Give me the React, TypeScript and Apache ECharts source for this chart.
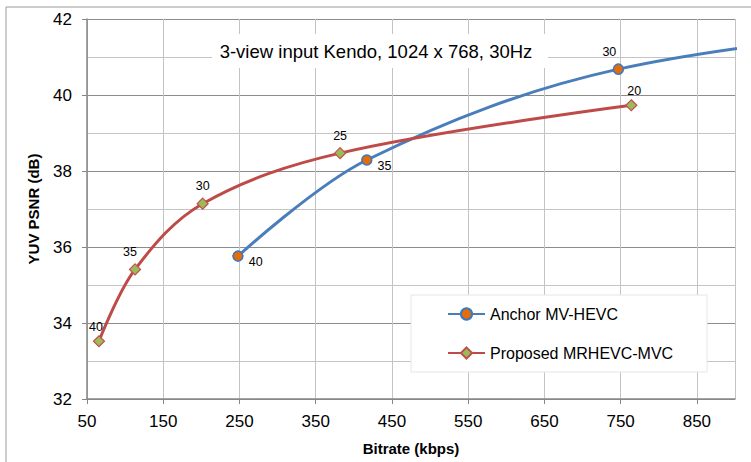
import React, { useEffect, useRef } from "react";
import * as echarts from "echarts";

const xTicks = [50, 150, 250, 350, 450, 550, 650, 750, 850];
const anchorBitrate = [248, 417, 747, 1250];
const anchorPsnr = [35.76, 38.29, 40.68, 42.0];
const anchorQp = ["40", "35", "30", "25"];
const proposedBitrate = [65.7, 113, 201.7, 382, 764];
const proposedPsnr = [33.52, 35.41, 37.14, 38.47, 39.73];
const proposedQp = ["40", "35", "30", "25", "20"];

const FONT = "Liberation Sans";

const anchorLabelPos: any[] = [
  { position: "right", offset: [0, 6] },
  { position: "right", offset: [0, 6] },
  { position: "top", offset: [-9, 0] },
  { position: "top", offset: [0, 0] },
];
const proposedLabelPos: any[] = [
  { position: "top", offset: [-3, 3] },
  { position: "top", offset: [-5, 0] },
  { position: "top", offset: [0, 0] },
  { position: "top", offset: [0, 0] },
  { position: "top", offset: [3, 3] },
];

export default function App() {
  const ref = useRef<HTMLDivElement>(null);
  useEffect(() => {
    const chart = echarts.init(ref.current!, null, { renderer: "svg" });
    const anchorData = anchorBitrate.map((x, i) => ({
      value: [x, anchorPsnr[i]],
      label: { show: true, formatter: anchorQp[i], ...anchorLabelPos[i] },
    }));
    const proposedData = proposedBitrate.map((x, i) => ({
      value: [x, proposedPsnr[i]],
      label: { show: true, formatter: proposedQp[i], ...proposedLabelPos[i] },
    }));
    chart.setOption({
      animation: false,
      backgroundColor: "#ffffff",
      textStyle: { fontFamily: FONT },
      grid: { left: 87, top: 19, width: 648, height: 380, containLabel: false },
      xAxis: {
        type: "value",
        min: 50,
        max: 900,
        interval: 100,
        name: "Bitrate (kbps)",
        nameLocation: "middle",
        nameGap: 42,
        nameTextStyle: { fontFamily: FONT, fontWeight: "bold", fontSize: 15, color: "#000" },
        axisLine: { show: true, lineStyle: { color: "#868686", width: 1.5 } },
        axisTick: { show: true, length: 5, inside: false, lineStyle: { color: "#868686" } },
        axisLabel: {
          fontFamily: FONT,
          fontSize: 17,
          color: "#000",
          margin: 14,
          showMaxLabel: false,
          formatter: (v: number) => (xTicks.includes(v) ? String(v) : ""),
        },
        splitLine: { show: true, lineStyle: { color: "#c4c4c4", width: 1 } },
      },
      yAxis: {
        type: "value",
        min: 32,
        max: 42,
        interval: 2,
        name: "YUV PSNR (dB)",
        nameLocation: "middle",
        nameGap: 46,
        nameTextStyle: { fontFamily: FONT, fontWeight: "bold", fontSize: 15, color: "#000" },
        axisLine: { show: true, lineStyle: { color: "#868686", width: 1.5 } },
        axisTick: { show: true, length: 5, lineStyle: { color: "#868686" } },
        axisLabel: { fontFamily: FONT, fontSize: 17, color: "#000", margin: 15 },
        splitLine: { show: true, lineStyle: { color: "#8c8c8c", width: 1 } },
        minorTick: { show: false, splitNumber: 2 },
        minorSplitLine: { show: true, lineStyle: { color: "#c4c4c4", width: 1 } },
      },
      legend: {
        orient: "vertical",
        left: 447,
        top: 306,
        padding: 0,
        itemWidth: 37,
        itemHeight: 14,
        itemGap: 23,
        z: 10,
        textStyle: { fontFamily: FONT, fontSize: 16, color: "#000" },
        data: ["Anchor MV-HEVC", "Proposed MRHEVC-MVC"],
      },
      graphic: [
        {
          type: "rect",
          z: 0,
          silent: true,
          shape: { x: 6, y: 7, width: 800, height: 500 },
          style: { fill: "none", stroke: "#9a9a9a", lineWidth: 1 },
        },
        {
          type: "rect",
          z: 5,
          silent: true,
          shape: { x: 212, y: 34, width: 336, height: 34 },
          style: { fill: "#ffffff", stroke: "none" },
        },
        {
          type: "text",
          z: 6,
          silent: true,
          x: 376,
          y: 51,
          style: {
            text: "3-view input Kendo, 1024 x 768, 30Hz",
            fontFamily: FONT,
            fontSize: 18.5,
            fill: "#000",
            align: "center",
            verticalAlign: "middle",
          },
        },
        {
          type: "rect",
          z: 5,
          silent: true,
          shape: { x: 411, y: 295, width: 296, height: 77 },
          style: { fill: "#ffffff", stroke: "#e6e6e6", lineWidth: 1 },
        },
      ],
      series: [
        {
          name: "Anchor MV-HEVC",
          type: "line",
          smooth: 0.35,
          clip: true,
          data: anchorData,
          symbol: "circle",
          symbolSize: 10,
          lineStyle: { color: "#4A7EBB", width: 3 },
          itemStyle: { color: "#E46C0A", borderColor: "#3A78C0", borderWidth: 1.5 },
          label: { fontFamily: FONT, fontSize: 12.5, color: "#000", distance: 5 },
          z: 3,
        },
        {
          name: "Proposed MRHEVC-MVC",
          type: "line",
          smooth: 0.35,
          clip: true,
          data: proposedData,
          symbol: "diamond",
          symbolSize: 11,
          lineStyle: { color: "#BE4B48", width: 3 },
          itemStyle: { color: "#9BBB59", borderColor: "#C0504D", borderWidth: 1.2 },
          label: { fontFamily: FONT, fontSize: 12.5, color: "#000", distance: 5 },
          z: 3,
        },
      ],
    });
    return () => chart.dispose();
  }, []);
  return (
    <div
      ref={ref}
      style={{ position: "fixed", left: 0, top: 0, width: 751, height: 462 }}
    />
  );
}
